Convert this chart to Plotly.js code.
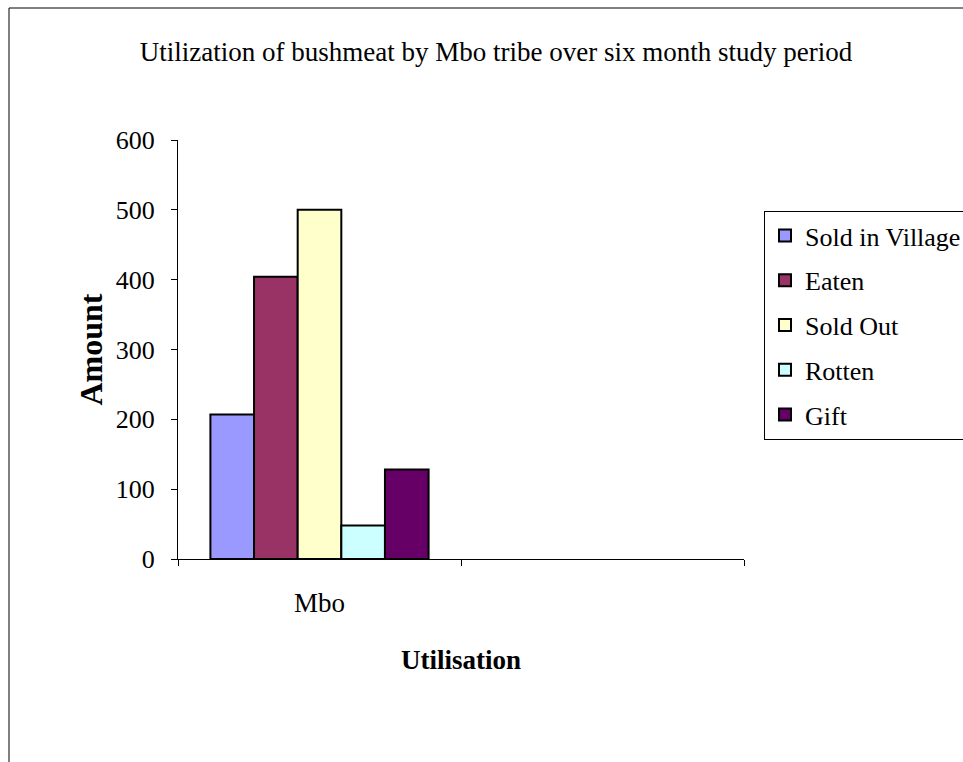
<!DOCTYPE html>
<html>
<head>
<meta charset="utf-8">
<script src="https://cdn.plot.ly/plotly-3.0.1.min.js"></script>
<style>html,body{margin:0;padding:0;background:#fff;overflow:hidden;}#chart{width:963px;height:762px;}</style>
</head>
<body>
<div id="chart"></div>
<script>
const categories = ['Mbo', ' '];
const seriesNames = ['Sold in Village', 'Eaten', 'Sold Out', 'Rotten', 'Gift'];
const seriesValues = [207, 404, 500, 48, 128];
const seriesColors = ['#9999FF', '#993366', '#FFFFCC', '#CCFFFF', '#660066'];
const yTicks = [0, 100, 200, 300, 400, 500, 600];

const FONT = 'Liberation Serif, Times New Roman, serif';

const traces = seriesNames.map((name, i) => ({
  type: 'bar',
  name: name,
  x: [categories[0]],
  y: [seriesValues[i]],
  legendgroup: 'g' + i,
  marker: {color: seriesColors[i], line: {color: '#000', width: 2}},
  hoverinfo: 'name+y'
}));

const W = 963, H = 762;
const L = 178, R = 744, T = 140, B = 559;

const layout = {
  width: W, height: H,
  margin: {l: L, r: W - R, t: T, b: H - B, pad: 0, autoexpand: false},
  paper_bgcolor: '#fff', plot_bgcolor: '#fff',
  font: {family: FONT, color: '#000', size: 27},
  barmode: 'group', bargap: 0.229, bargroupgap: 0,
  showlegend: true,
  title: {
    text: 'Utilization of bushmeat by Mbo tribe over six month study period',
    font: {family: FONT, size: 27, color: '#000'},
    x: 496 / W, xref: 'container', xanchor: 'center',
    y: 1 - 52 / H, yref: 'container', yanchor: 'middle'
  },
  xaxis: {
    type: 'category',
    categoryorder: 'array', categoryarray: categories,
    tickvals: categories, ticktext: categories,
    range: [-0.5, 1.5],
    tickson: 'boundaries', ticks: 'outside', ticklen: 6, tickcolor: '#000', tickwidth: 1,
    showline: true, linecolor: '#000', linewidth: 1,
    showgrid: false, zeroline: false,
    tickfont: {family: FONT, size: 27, color: '#000'},
    ticklabelstandoff: 20,
    title: {text: '<b>Utilisation</b>', font: {family: FONT, size: 27, color: '#000'}, standoff: 32},
    automargin: false,
    fixedrange: true
  },
  yaxis: {
    range: [0, 600], tickvals: yTicks, ticktext: yTicks.map(String),
    ticks: 'outside', ticklen: 6, tickcolor: '#000', tickwidth: 1,
    showline: true, linecolor: '#000', linewidth: 1,
    showgrid: false, zeroline: false,
    tickfont: {family: FONT, size: 26, color: '#000'},
    ticklabelstandoff: 11,
    title: {text: '<b>Amount</b>', font: {family: FONT, size: 32, color: '#000'}, standoff: 3},
    automargin: false,
    fixedrange: true
  },
  legend: {
    x: (764 - L) / (R - L), xanchor: 'left',
    y: (B - 211) / (B - T), yanchor: 'top',
    bordercolor: '#000', borderwidth: 1, bgcolor: '#fff',
    font: {family: FONT, size: 26, color: '#000'},
    tracegroupgap: 8, itemwidth: 30,
    traceorder: 'grouped'
  },
  shapes: [
    {type: 'line', xref: 'paper', yref: 'paper',
     x0: (9 - L) / (R - L), x1: (9 - L) / (R - L), y0: (B - 8) / (B - T), y1: (B - H) / (B - T),
     line: {color: '#000', width: 1}},
    {type: 'line', xref: 'paper', yref: 'paper',
     x0: (9 - L) / (R - L), x1: (W + 5 - L) / (R - L), y0: (B - 8) / (B - T), y1: (B - 8) / (B - T),
     line: {color: '#000', width: 1}}
  ]
};

Plotly.newPlot('chart', traces, layout, {displayModeBar: false, staticPlot: true});
</script>
</body>
</html>
